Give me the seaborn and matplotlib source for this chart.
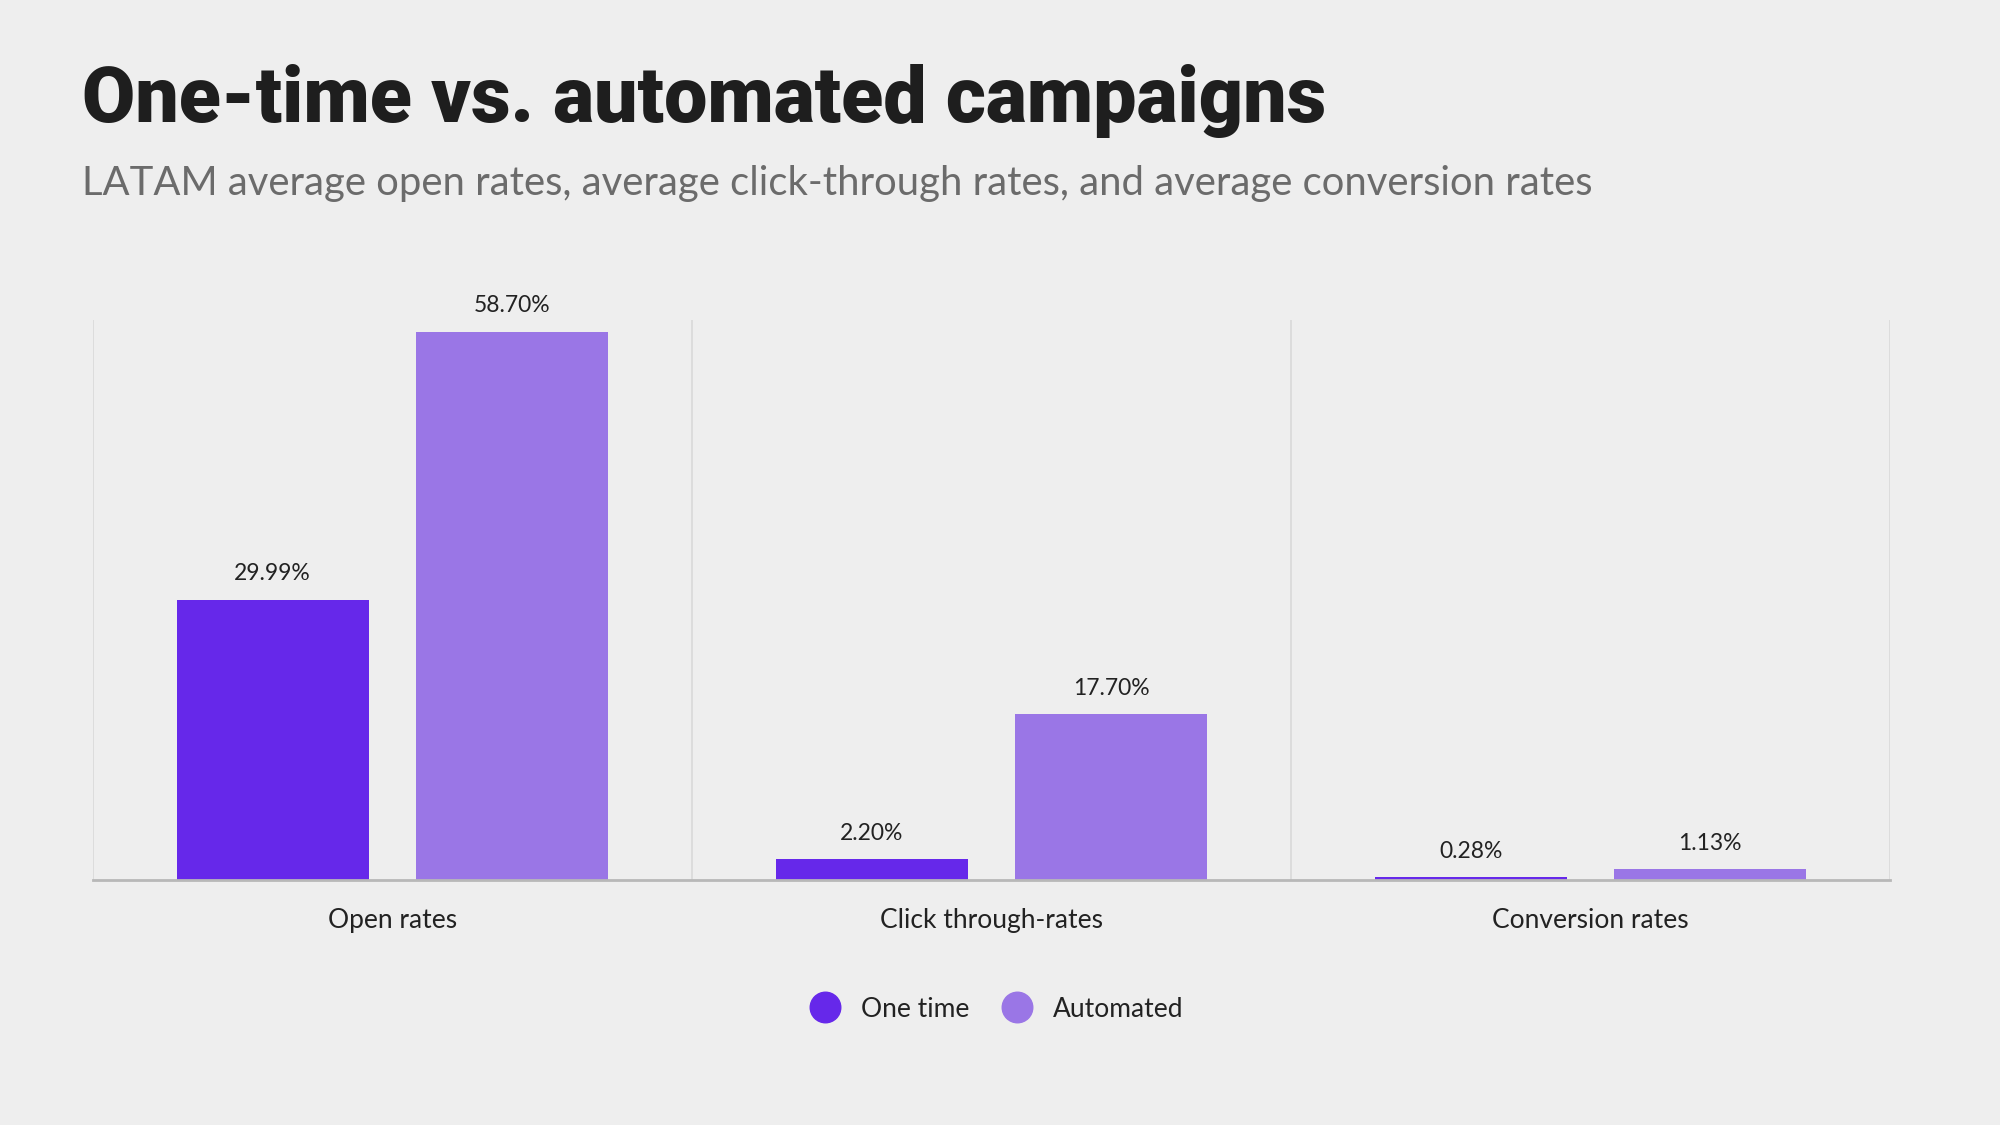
import pandas as pd
import seaborn as sns
import matplotlib.pyplot as plt
from matplotlib.lines import Line2D

# Dados
categorias = ["Open rates", "Click through-rates", "Conversion rates"]
one_time = [29.99, 2.20, 0.28]
automated = [58.70, 17.70, 1.13]
series = ["One time", "Automated"]
cores = ["#6628EA", "#9A76E6"]

df = pd.DataFrame({
    "categoria": categorias * 2,
    "valor": one_time + automated,
    "serie": [series[0]] * 3 + [series[1]] * 3,
})

bg = "#EEEEEE"
sns.set_theme(style="white")
plt.rcParams["font.family"] = ["Lato", "DejaVu Sans"]

fig = plt.figure(figsize=(20, 11.25), dpi=100, facecolor=bg)
ax = fig.add_axes([0.0465, 0.218, 0.8985, 0.498])
ax.set_facecolor(bg)

sns.barplot(data=df, x="categoria", y="valor", hue="serie", order=categorias,
            hue_order=series, palette=cores, gap=0.2, saturation=1,
            linewidth=0, legend=False, ax=ax)

for cont in ax.containers:
    ax.bar_label(cont, labels=[f"{v:.2f}%" for v in cont.datavalues],
                 padding=11, fontsize=16.5, color="#222222")

ax.set_ylim(0, 60)
ax.set_xlim(-0.5, 2.5)
ax.set_xlabel("")
ax.set_ylabel("")
ax.set_yticks([])
ax.set_xticks(range(3))
ax.set_xticklabels(categorias, fontsize=19, color="#222222")
ax.tick_params(axis="x", length=0, pad=20)
ax.set_xticks([-0.5, 0.5, 1.5, 2.5], minor=True)
ax.tick_params(axis="x", which="minor", length=0)
ax.grid(axis="x", which="minor", color="#D9D9D9", linewidth=1.2)
ax.set_axisbelow(True)
for s in ["left", "right", "top"]:
    ax.spines[s].set_visible(False)
ax.spines["bottom"].set_color("#B8B8B8")
ax.spines["bottom"].set_linewidth(2)

# Legenda com círculos
handles = [Line2D([], [], marker="o", linestyle="", markersize=22,
                  markerfacecolor=c, markeredgecolor=c) for c in cores]
fig.legend(handles, series, loc="center", bbox_to_anchor=(0.4955, 0.103),
           ncol=2, frameon=False, fontsize=19, handletextpad=0.35,
           columnspacing=0.8, labelcolor="#222222")

# Títulos
fig.text(0.041, 0.892, "One-time vs. automated campaigns", fontsize=55.5,
         fontweight="heavy", family=["Roboto", "DejaVu Sans"], color="#1E1E1E",
         va="baseline")
fig.text(0.041, 0.827, "LATAM average open rates, average click-through rates, "
         "and average conversion rates", fontsize=28.8, color="#6B6B6B",
         va="baseline")

fig.savefig("out.png", dpi=100, facecolor=bg)
